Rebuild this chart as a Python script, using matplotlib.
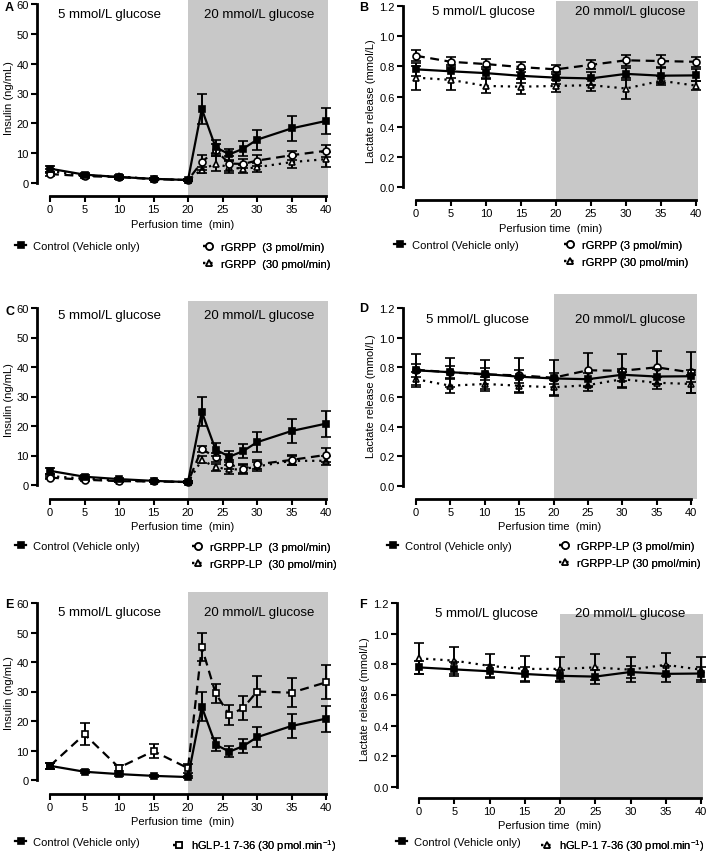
import numpy as np
import matplotlib
matplotlib.use("Agg")
import matplotlib.pyplot as plt

plt.rcParams['font.family'] = ['Liberation Sans', 'DejaVu Sans']
plt.rcParams['mathtext.default'] = 'regular'

# time points
t_ins = [0, 5, 10, 15, 20, 22, 24, 26, 28, 30, 35, 40]
t_lac = [0, 5, 10, 15, 20, 25, 30, 35, 40]

# insulin (ng/mL), mean and error
ins_ctrl = [4.8, 2.8, 2.0, 1.4, 1.0, 24.8, 12.0, 9.6, 11.5, 14.5, 18.3, 20.8]
ins_ctrl_err = [1.0, 0.5, 0.5, 0.4, 0.4, 4.9, 2.3, 1.8, 2.5, 3.4, 4.2, 4.4]
ins_rgrpp3 = [3.0, 2.3, 2.0, 1.3, 1.0, 7.0, 11.0, 6.5, 6.4, 7.5, 9.3, 10.8]
ins_rgrpp3_err = [0.6, 0.5, 0.5, 0.4, 0.4, 2.5, 2.0, 2.5, 1.5, 1.8, 1.5, 2.0]
ins_rgrpp30 = [4.0, 2.5, 2.2, 1.3, 1.0, 4.5, 6.4, 5.3, 4.7, 5.3, 7.0, 8.0]
ins_rgrpp30_err = [0.6, 0.5, 0.4, 0.3, 0.3, 1.0, 2.5, 2.0, 1.5, 1.5, 2.0, 2.5]
ins_lp3 = [2.5, 1.8, 1.3, 1.2, 1.0, 12.2, 9.4, 7.0, 5.5, 7.0, 8.5, 10.2]
ins_lp3_err = [0.5, 0.4, 0.4, 0.3, 0.3, 1.0, 1.5, 1.5, 1.5, 1.5, 1.8, 2.5]
ins_lp30 = [3.0, 2.2, 1.5, 1.2, 1.0, 8.5, 6.0, 5.3, 5.3, 6.3, 8.2, 8.2]
ins_lp30_err = [0.6, 0.4, 0.4, 0.3, 0.3, 1.2, 1.2, 1.5, 1.5, 1.5, 1.5, 1.5]
ins_glp = [4.8, 15.5, 4.2, 9.8, 4.0, 45.0, 29.4, 22.0, 24.4, 30.0, 29.6, 33.1]
ins_glp_err = [1.0, 3.7, 1.0, 2.5, 1.5, 4.7, 3.3, 3.5, 4.0, 5.4, 5.0, 5.8]

# lactate release (mmol/L)
lac_ctrl = [0.78, 0.767, 0.755, 0.737, 0.725, 0.72, 0.75, 0.738, 0.74]
lac_ctrl_err = [0.045, 0.045, 0.04, 0.045, 0.04, 0.045, 0.04, 0.05, 0.04]
lac_rgrpp3 = [0.87, 0.83, 0.815, 0.795, 0.78, 0.81, 0.84, 0.835, 0.83]
lac_rgrpp3_err = [0.035, 0.035, 0.035, 0.035, 0.03, 0.03, 0.035, 0.04, 0.035]
lac_rgrpp30 = [0.725, 0.71, 0.67, 0.665, 0.67, 0.675, 0.653, 0.704, 0.672]
lac_rgrpp30_err = [0.08, 0.07, 0.05, 0.05, 0.04, 0.04, 0.07, 0.03, 0.03]
lac_lp3 = [0.784, 0.766, 0.752, 0.746, 0.73, 0.78, 0.777, 0.80, 0.766]
lac_lp3_err = [0.105, 0.10, 0.10, 0.115, 0.12, 0.115, 0.115, 0.11, 0.14]
lac_lp30 = [0.72, 0.676, 0.688, 0.676, 0.665, 0.68, 0.72, 0.696, 0.688]
lac_lp30_err = [0.05, 0.05, 0.05, 0.05, 0.05, 0.04, 0.05, 0.04, 0.06]
lac_glp = [0.839, 0.824, 0.79, 0.77, 0.77, 0.78, 0.765, 0.797, 0.765]
lac_glp_err = [0.1, 0.09, 0.08, 0.085, 0.08, 0.085, 0.08, 0.075, 0.08]

W, H = 709, 853
fig = plt.figure(figsize=(W / 100, H / 100), dpi=100)

DASH = (0, (4, 2.5))
DOT = (0, (1, 2.2))


def px(x, y):
    return x / W, 1 - y / H


def make_axes(xl, x0, x40, xr, ytick, y0, yb, yt, shade_top, ymax):
    ax = fig.add_axes([xl / W, 1 - yb / H, (xr - xl) / W, (yb - yt) / H])
    ppx = (x40 - x0) / 40
    ppy = (y0 - ytick) / ymax
    ax.set_xlim(-(x0 - xl) / ppx, 40 + (xr - x40) / ppx)
    ax.set_ylim(-(yb - y0) / ppy, ymax + (ytick - yt) / ppy)
    ax.axvspan(20, 40 + (xr - x40) / ppx, ymin=0, ymax=(yb - shade_top) / (yb - yt),
               color='#c8c8c8', lw=0, zorder=0)
    for s in ['top', 'right']:
        ax.spines[s].set_visible(False)
    for s in ['left', 'bottom']:
        ax.spines[s].set_linewidth(2)
    ax.spines['left'].set_bounds(0, ymax)
    ax.spines['bottom'].set_bounds(0, 40)
    ax.set_xticks([0, 5, 10, 15, 20, 25, 30, 35, 40])
    ax.tick_params(length=4, width=1.5, labelsize=8, pad=2)
    ax.set_xlabel('Perfusion time  (min)', fontsize=8, labelpad=3)
    ax.patch.set_alpha(0)
    return ax


def series(ax, t, y, e, marker, ls, fill, z):
    c = ax.errorbar(t, y, yerr=e, color='black', marker=marker, ms=5, mfc=fill,
                    mec='black', mew=1.2, ls=ls, lw=1.6, elinewidth=1.4,
                    capsize=3.5, capthick=1.4, zorder=z, clip_on=False)
    return c.lines[0]


def legend(ax, handles, labels, x, y):
    lg = ax.legend(handles, labels, loc='upper left', bbox_to_anchor=px(x, y - 7),
                   bbox_transform=fig.transFigure, frameon=False, fontsize=8,
                   handlelength=1.0, handletextpad=0.6, borderpad=0,
                   borderaxespad=0, labelspacing=0.6, numpoints=1)
    ax.add_artist(lg)


def glucose_text(xa, xb, y):
    fig.text(*px(xa, y), '5 mmol/L glucose', fontsize=9.5, ha='center', va='center')
    fig.text(*px(xb, y), '20 mmol/L glucose', fontsize=9.5, ha='center', va='center')


# ---- insulin panels (left column)
ins_panels = [
    ('A', (37, 50, 326, 328, 5, 184, 197, 0, 0), ins_rgrpp3, ins_rgrpp3_err, ins_rgrpp30, ins_rgrpp30_err,
     'rGRPP  (3 pmol/min)', 'rGRPP  (30 pmol/min)', 8, 15, (15, 249), (203, 250)),
    ('C', (37, 50, 326, 328, 309, 486, 500, 300, 302), ins_lp3, ins_lp3_err, ins_lp30, ins_lp30_err,
     'rGRPP-LP  (3 pmol/min)', 'rGRPP-LP  (30 pmol/min)', 312, 316, (15, 549), (192, 550)),
]
for letter, box, y3, e3, y30, e30, l3, l30, ly, gy, lc, lr in ins_panels:
    ax = make_axes(*box, ymax=60)
    ax.set_yticks([0, 10, 20, 30, 40, 50, 60])
    ax.set_ylabel('Insulin (ng/mL)', fontsize=8, labelpad=2)
    h30 = series(ax, t_ins, y30, e30, '^', DOT, 'white', 3)
    h3 = series(ax, t_ins, y3, e3, 'o', DASH, 'white', 4)
    hc = series(ax, t_ins, ins_ctrl, ins_ctrl_err, 's', '-', 'black', 5)
    fig.text(*px(5, ly), letter, fontsize=9, fontweight='bold', va='center')
    glucose_text(110, 259, gy)
    legend(ax, [hc], ['Control (Vehicle only)'], *lc)
    legend(ax, [h3, h30], [l3, l30], *lr)

# panel E
ax = make_axes(37, 50, 326, 328, 604, 781, 795, 592, 593, ymax=60)
ax.set_yticks([0, 10, 20, 30, 40, 50, 60])
ax.set_ylabel('Insulin (ng/mL)', fontsize=8, labelpad=2)
hg = series(ax, t_ins, ins_glp, ins_glp_err, 's', DASH, 'white', 4)
hc = series(ax, t_ins, ins_ctrl, ins_ctrl_err, 's', '-', 'black', 5)
fig.text(*px(5, 605), 'E', fontsize=9, fontweight='bold', va='center')
glucose_text(110, 259, 613)
legend(ax, [hc], ['Control (Vehicle only)'], 15, 845)
legend(ax, [hg], ['hGLP-1 7-36 (30 pmol.min$^{-1}$)'], 173, 845)

# ---- lactate panels (right column)
lac_panels = [
    ('B', (403, 416, 696, 698, 7, 188, 201, 2, 2), lac_rgrpp3, lac_rgrpp3_err, lac_rgrpp30, lac_rgrpp30_err,
     'rGRPP (3 pmol/min)', 'rGRPP (30 pmol/min)', 8, (483, 630, 12), (394, 248), (564, 248)),
    ('D', (403, 416, 691, 697, 309, 487, 500, 293, 295), lac_lp3, lac_lp3_err, lac_lp30, lac_lp30_err,
     'rGRPP-LP (3 pmol/min)', 'rGRPP-LP (30 pmol/min)', 309, (478, 630, 320), (387, 549), (559, 549)),
]
for letter, box, y3, e3, y30, e30, l3, l30, ly, g, lc, lr in lac_panels:
    ax = make_axes(*box, ymax=1.2)
    ax.set_yticks([0, 0.2, 0.4, 0.6, 0.8, 1.0, 1.2])
    ax.set_yticklabels(['0.0', '0.2', '0.4', '0.6', '0.8', '1.0', '1.2'])
    ax.set_ylabel('Lactate release (mmol/L)', fontsize=8, labelpad=2)
    h30 = series(ax, t_lac, y30, e30, '^', DOT, 'white', 3)
    h3 = series(ax, t_lac, y3, e3, 'o', DASH, 'white', 4)
    hc = series(ax, t_lac, lac_ctrl, lac_ctrl_err, 's', '-', 'black', 5)
    fig.text(*px(359, ly), letter, fontsize=9, fontweight='bold', va='center')
    glucose_text(*g)
    legend(ax, [hc], ['Control (Vehicle only)'], *lc)
    legend(ax, [h3, h30], [l3, l30], *lr)

# panel F
ax = make_axes(397, 419, 701, 703, 604, 788, 799, 600, 615, ymax=1.2)
ax.set_yticks([0, 0.2, 0.4, 0.6, 0.8, 1.0, 1.2])
ax.set_yticklabels(['0.0', '0.2', '0.4', '0.6', '0.8', '1.0', '1.2'])
ax.set_ylabel('Lactate release (mmol/L)', fontsize=8, labelpad=2)
hg = series(ax, t_lac, lac_glp, lac_glp_err, '^', DOT, 'white', 4)
hc = series(ax, t_lac, lac_ctrl, lac_ctrl_err, 's', '-', 'black', 5)
fig.text(*px(359, 605), 'F', fontsize=9, fontweight='bold', va='center')
glucose_text(486, 630, 614)
legend(ax, [hc], ['Control (Vehicle only)'], 396, 845)
legend(ax, [hg], ['hGLP-1 7-36 (30 pmol.min$^{-1}$)'], 541, 845)

fig.savefig('out.png', dpi=100)
